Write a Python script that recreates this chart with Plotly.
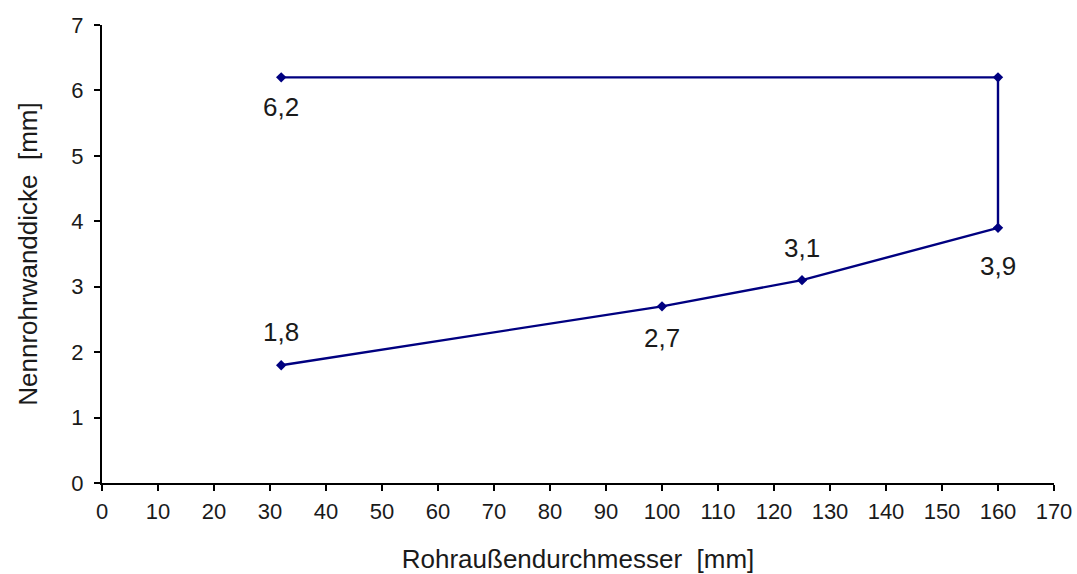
import plotly.graph_objects as go

# Rohraußendurchmesser [mm] and Nennrohrwanddicke [mm]
durchmesser = [32, 100, 125, 160, 160, 32]
wanddicke = [1.8, 2.7, 3.1, 3.9, 6.2, 6.2]

x_ticks = list(range(0, 171, 10))
y_ticks = list(range(0, 8))

# vertical pixel offset of each value label (None = no label)
label_shift = [33, -32, 32, -38, None, -30]

line_color = "#000080"
text_color = "#1a1a1a"
font_family = "Liberation Sans, Arial, sans-serif"

fig = go.Figure()
fig.add_trace(go.Scatter(
    x=durchmesser, y=wanddicke, mode="lines+markers",
    line=dict(color=line_color, width=2.4),
    marker=dict(symbol="diamond", size=8, color=line_color),
    hoverinfo="x+y", showlegend=False,
))

for xv, yv, shift in zip(durchmesser, wanddicke, label_shift):
    if shift is None:
        continue
    fig.add_annotation(
        x=xv, y=yv, text=f"{yv:.1f}".replace(".", ","), showarrow=False,
        yshift=shift, font=dict(size=26, color=text_color, family=font_family),
    )

axis_common = dict(
    showgrid=False, zeroline=False, showline=True, linecolor="black", linewidth=2,
    ticks="outside", ticklen=6, tickwidth=2, tickcolor="black", automargin=False,
    tickfont=dict(size=22, color=text_color, family=font_family),
)

fig.update_layout(
    width=1077, height=574,
    margin=dict(l=102, r=23, t=25, b=91),
    paper_bgcolor="white", plot_bgcolor="white",
    xaxis=dict(range=[0, 170], tickvals=x_ticks, ticklabelstandoff=2,
               title=dict(text="Rohraußendurchmesser  [mm]", standoff=26,
                          font=dict(size=26, color=text_color, family=font_family)),
               **axis_common),
    yaxis=dict(range=[0, 7], tickvals=y_ticks, ticklabelstandoff=6,
               title=dict(text="Nennrohrwanddicke  [mm]", standoff=26,
                          font=dict(size=26, color=text_color, family=font_family)),
               **axis_common),
)

fig.write_html("out.html")
